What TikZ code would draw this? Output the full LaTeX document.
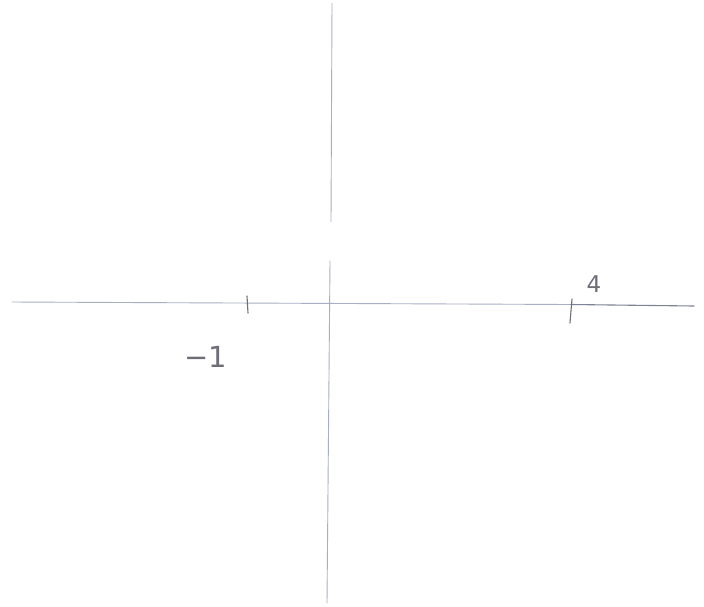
\documentclass[tikz,border=0pt]{standalone}
\usepackage{fontspec}
\setmainfont{DejaVu Sans}
\definecolor{pencil}{HTML}{A9AEC6}
\definecolor{pencildark}{HTML}{7D8396}
\definecolor{ink}{HTML}{6E6E78}
\tikzset{
  axisline/.style={draw=pencil, line width=0.9pt, line cap=round},
  tickmark/.style={draw=ink, line width=1.1pt, line cap=round},
  handlabel/.style={text=ink, inner sep=0pt, font=\fontsize{29}{29}\selectfont}
}
\begin{document}
\begin{tikzpicture}[x=1pt, y=-1pt]
  \useasboundingbox[fill=white] (0,0) rectangle (704,606);
  % horizontal axis
  \coordinate (xl) at (12,302);
  \coordinate (xm) at (571,304.5);
  \coordinate (xr) at (694,306);
  \draw[axisline] (xl) -- (xm);
  \draw[draw=pencildark, line width=1.1pt, line cap=round] (xm) -- (xr);
  % vertical axis (with a gap)
  \coordinate (yt) at (332,3);
  \coordinate (yg1) at (331,222);
  \coordinate (yg2) at (330,261);
  \coordinate (yb) at (327,603);
  \draw[axisline] (yt) -- (yg1);
  \draw[axisline] (yg2) -- (yb);
  % ticks
  \coordinate (t1a) at (247,296);
  \coordinate (t1b) at (248,313);
  \coordinate (t2a) at (572,299);
  \coordinate (t2b) at (570,323);
  \draw[tickmark] (t1a) -- (t1b);
  \draw[tickmark] (t2a) -- (t2b);
  % labels
  \node[handlabel] (lm1) at (206,357) {−1};
  \node[handlabel, font=\fontsize{23}{23}\selectfont] (l4) at (594,284) {4};
\end{tikzpicture}
\end{document}
